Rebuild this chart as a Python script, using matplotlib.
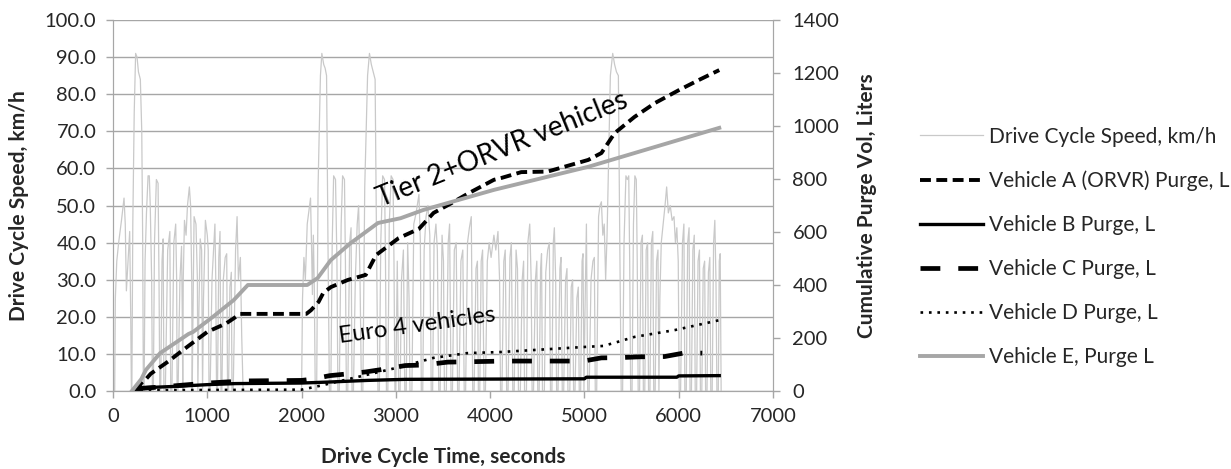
import matplotlib
matplotlib.use("Agg")
import matplotlib.pyplot as plt

plt.rcParams['font.family'] = ['Lato', 'DejaVu Sans']

# drive cycle speed trace (time s, speed km/h)
cycle_part1 = [(0, 0), (18, 0), (25, 25), (40, 35), (60, 40), (90, 46), (117, 52), (130, 45), (142, 27),
               (160, 35), (177, 43), (188, 20), (195, 0), (200, 0), (210, 45), (225, 75), (240, 91), (255, 90),
               (270, 86), (290, 84), (305, 70), (315, 40), (322, 0), (330, 0), (340, 35), (355, 48), (372, 58),
               (385, 58), (395, 50), (410, 30), (418, 0), (428, 0), (440, 40), (460, 57), (478, 56), (488, 30),
               (496, 0), (506, 0), (520, 35), (532, 41), (540, 0), (555, 0), (580, 38), (603, 43), (612, 0),
               (625, 0), (645, 40), (665, 45), (675, 30), (680, 0), (690, 0), (710, 30), (727, 39), (735, 20),
               (740, 0), (745, 30), (758, 46), (775, 42), (790, 50), (810, 55), (823, 50), (835, 30), (840, 0),
               (848, 20), (860, 47), (880, 45), (895, 30), (900, 0), (910, 20), (925, 41), (940, 38), (950, 0),
               (960, 25), (980, 46), (1000, 42), (1010, 38), (1018, 0), (1030, 0), (1050, 30), (1081, 45),
               (1090, 30), (1098, 0), (1108, 0), (1122, 36), (1135, 43), (1145, 0), (1155, 0), (1170, 30),
               (1190, 36), (1206, 37), (1215, 0), (1225, 0), (1240, 28), (1255, 32), (1262, 0), (1275, 0),
               (1300, 38), (1316, 47), (1330, 30), (1351, 36), (1365, 15), (1380, 0), (2000, 0)]
cycle_part2 = [(2010, 25), (2025, 36), (2040, 30), (2060, 45), (2085, 50), (2095, 52), (2105, 40), (2115, 26),
               (2125, 42), (2135, 28), (2145, 0), (2160, 0), (2175, 55), (2200, 85), (2215, 91), (2235, 88),
               (2250, 87), (2265, 85), (2280, 40), (2295, 0), (2310, 0), (2325, 40), (2340, 58), (2360, 57),
               (2375, 35), (2385, 0), (2400, 0), (2420, 45), (2435, 58), (2455, 57), (2465, 35), (2475, 0),
               (2490, 0), (2510, 40), (2525, 44), (2535, 0), (2550, 0), (2570, 30), (2590, 45), (2605, 50),
               (2620, 30), (2635, 0), (2650, 0), (2670, 55), (2700, 85), (2720, 91), (2740, 88), (2760, 86),
               (2780, 84), (2795, 40), (2810, 0), (2825, 0), (2840, 40), (2860, 58), (2880, 57), (2890, 35),
               (2900, 0), (2915, 0), (2930, 45), (2950, 58), (2970, 57), (2980, 35), (2990, 0)]
cycle_part3 = [(3000, 0), (3015, 35), (3030, 0), (3045, 0), (3060, 30), (3080, 38), (3095, 0), (3110, 0),
               (3125, 40), (3140, 25), (3150, 0), (3170, 0), (3190, 45), (3215, 48), (3245, 53), (3260, 40),
               (3270, 0), (3285, 0), (3300, 38), (3320, 47), (3340, 50), (3360, 42), (3375, 0), (3390, 0),
               (3405, 40), (3425, 45), (3440, 38), (3455, 0), (3470, 0), (3490, 42), (3505, 35), (3515, 0),
               (3535, 0), (3555, 40), (3570, 45), (3585, 0), (3600, 0), (3620, 38), (3640, 40), (3655, 0),
               (3670, 0), (3690, 35), (3710, 38), (3725, 0), (3740, 0), (3760, 40), (3780, 44), (3800, 47),
               (3815, 0), (3830, 0), (3850, 33), (3865, 35), (3875, 0), (3890, 0), (3905, 35), (3920, 38),
               (3935, 0), (3950, 0), (3970, 35), (3990, 40), (4010, 36), (4040, 42), (4060, 38), (4083, 43),
               (4100, 30), (4110, 0), (4125, 0), (4145, 35), (4160, 38), (4175, 0), (4190, 0), (4210, 36),
               (4225, 40), (4240, 0), (4255, 0), (4275, 38), (4290, 33), (4300, 0), (4320, 0), (4340, 30),
               (4355, 35), (4365, 0), (4385, 0), (4400, 40), (4420, 45), (4435, 30), (4445, 0), (4460, 0),
               (4480, 30), (4495, 35), (4505, 0), (4520, 0), (4535, 33), (4545, 37), (4555, 0), (4575, 0),
               (4590, 32), (4610, 38), (4628, 40), (4640, 0), (4655, 0), (4670, 40), (4681, 44), (4695, 30),
               (4705, 0), (4720, 0), (4740, 33), (4752, 36), (4765, 0), (4780, 0), (4800, 30), (4815, 33),
               (4825, 0), (4845, 0), (4860, 28), (4875, 30), (4885, 0), (4900, 0), (4920, 25), (4935, 28),
               (4945, 0), (4960, 0), (4975, 35), (4985, 37), (4995, 0), (5005, 20), (5021, 45), (5035, 0),
               (5050, 0), (5070, 30), (5090, 35), (5105, 36), (5115, 0), (5130, 0), (5150, 47), (5165, 50),
               (5180, 51), (5195, 42), (5210, 45), (5225, 30), (5240, 42), (5255, 60), (5275, 85), (5300, 91),
               (5320, 88), (5340, 86), (5360, 85), (5375, 40), (5390, 0), (5405, 0), (5420, 40), (5440, 58),
               (5455, 57), (5470, 58), (5480, 35), (5490, 0), (5505, 0), (5520, 45), (5535, 58), (5550, 57),
               (5560, 35), (5570, 0), (5585, 0), (5600, 40), (5615, 42), (5625, 0), (5640, 0), (5655, 38),
               (5670, 40), (5680, 0), (5695, 0), (5710, 40), (5725, 43), (5735, 0), (5750, 0), (5765, 35),
               (5780, 38), (5790, 0), (5800, 25), (5815, 40), (5835, 45), (5855, 50), (5872, 55), (5890, 48),
               (5910, 50), (5930, 46), (5950, 47), (5965, 40), (5980, 44), (5995, 35), (6005, 0), (6020, 0),
               (6040, 40), (6055, 45), (6065, 0), (6080, 0), (6095, 40), (6110, 44), (6120, 0), (6135, 0),
               (6150, 38), (6165, 42), (6175, 0), (6190, 0), (6205, 35), (6220, 38), (6230, 0), (6245, 0),
               (6260, 33), (6275, 35), (6285, 0), (6300, 0), (6315, 32), (6330, 36), (6340, 0), (6355, 0),
               (6370, 40), (6383, 46), (6395, 30), (6405, 0), (6420, 0), (6430, 35), (6440, 37), (6450, 0)]

# cumulative purge volume, liters
a_time = [250, 300, 350, 400, 500, 600, 700, 800, 1000, 1200, 1350, 2050, 2100, 2180, 2230, 2310, 2490, 2680,
          2790, 3030, 3245, 3400, 3585, 3770, 4040, 4120, 4330, 4610, 5040, 5180, 5320, 5530, 5750, 6000, 6210, 6430]
a_purge = [0, 30, 45, 65, 90, 115, 143, 170, 223, 255, 291, 291, 305, 336, 370, 392, 419, 438,
           513, 577, 612, 672, 708, 746, 797, 804, 826, 828, 872, 898, 973, 1034, 1087, 1135, 1173, 1211]

b_time = [250, 300, 700, 1000, 1300, 2000, 2300, 2700, 3100, 5000, 5020, 5980, 6000, 6430]
b_purge = [0, 12, 18, 24, 28, 30, 34, 40, 44, 46, 52, 52, 57, 58]

c_time = [250, 300, 500, 800, 1000, 1200, 1400, 2000, 2100, 2300, 2500, 2680, 2830, 3100, 3290, 3550, 3730,
          4150, 4990, 5180, 5380, 5590, 5850, 6050, 6250]
c_purge = [0, 10, 15, 24, 30, 34, 38, 40, 44, 58, 65, 72, 80, 96, 98, 109, 110, 113, 113, 125, 126, 129, 130, 143, 143]

d_time = [200, 400, 2000, 2200, 2500, 2800, 3050, 3400, 3760, 4110, 4990, 5200, 5350, 5530, 5960, 6440]
d_purge = [0, 3, 5, 20, 45, 70, 91, 125, 143, 147, 166, 170, 185, 204, 230, 268]

e_time = [200, 300, 350, 500, 800, 850, 1060, 1280, 1430, 2060, 2170, 2310, 2520, 2810, 3050, 3290, 4040,
          5040, 6430]
e_purge = [0, 45, 80, 143, 215, 223, 280, 343, 400, 400, 426, 494, 558, 634, 652, 683, 759, 846, 993]

labels = ["Drive Cycle Speed, km/h", "Vehicle A (ORVR) Purge, L", "Vehicle B Purge, L",
          "Vehicle C Purge, L", "Vehicle D Purge, L", "Vehicle E, Purge L"]

speed = cycle_part1 + cycle_part2 + cycle_part3
speed_t = [p[0] for p in speed]
speed_v = [p[1] for p in speed]

fig = plt.figure(figsize=(12.31, 4.69), dpi=100)
ax = fig.add_axes([113 / 1231, 78 / 469, 660 / 1231, 371 / 469])
ax2 = ax.twinx()

grid_c = "#a6a6a6"
text_c = "#262626"

l0, = ax.plot(speed_t, speed_v, color="#c9c9c9", lw=0.9, label=labels[0])
ax.set_xlim(0, 7000)
ax.set_ylim(0, 100)
ax.set_xticks(range(0, 7001, 1000))
ax.set_yticks(range(0, 101, 10))
ax.set_yticklabels(["%.1f" % v for v in range(0, 101, 10)])
ax.yaxis.grid(True, color=grid_c, lw=1.0)
ax.set_axisbelow(True)

l1, = ax2.plot(a_time, a_purge, color="black", lw=2.8, linestyle=(0, (2.8, 1.4)), label=labels[1])
l2, = ax2.plot(b_time, b_purge, color="black", lw=2.4, label=labels[2])
l3, = ax2.plot(c_time, c_purge, color="black", lw=3.4, linestyle=(0, (4.2, 3.8)), label=labels[3])
l4, = ax2.plot(d_time, d_purge, color="black", lw=1.9, linestyle=(0, (1, 2.2)), label=labels[4])
l5, = ax2.plot(e_time, e_purge, color="#a6a6a6", lw=2.8, label=labels[5])
ax2.set_ylim(0, 1400)
ax2.set_yticks(range(0, 1401, 200))

for a in (ax, ax2):
    for s in a.spines.values():
        s.set_color(grid_c)
    a.spines["top"].set_visible(False)
    a.tick_params(colors=grid_c, labelcolor=text_c, labelsize=14.5, length=5, width=1)
ax.tick_params(axis="y", pad=7)
ax.tick_params(axis="x", pad=7)
ax2.tick_params(axis="y", pad=9)

ax.set_xlabel("Drive Cycle Time, seconds", fontsize=15, fontweight="bold", color=text_c)
ax.set_ylabel("Drive Cycle Speed, km/h", fontsize=15, fontweight="bold", color=text_c)
ax2.set_ylabel("Cumulative Purge Vol, Liters", fontsize=15, fontweight="bold", color=text_c)
ax.xaxis.set_label_coords(0.5, -0.150)
ax.yaxis.set_label_coords(-0.128, 0.5)
ax2.yaxis.set_label_coords(1.127, 0.5)

ax2.text(4125, 65 * 14, "Tier 2+ORVR vehicles", fontsize=20, rotation=22, ha="center", va="center",
         rotation_mode="anchor", color="black")
ax2.text(3224, 17.5 * 14, "Euro 4 vehicles", fontsize=17, rotation=8, ha="center", va="center",
         rotation_mode="anchor", color="black")

fig.legend(handles=[l0, l1, l2, l3, l4, l5], loc="center left", bbox_to_anchor=(920 / 1231, 0.474),
           frameon=False, fontsize=15, handlelength=3.0, handletextpad=0.3, labelspacing=1.15,
           borderpad=0, borderaxespad=0, labelcolor=text_c)

fig.savefig("out.png", dpi=100)
